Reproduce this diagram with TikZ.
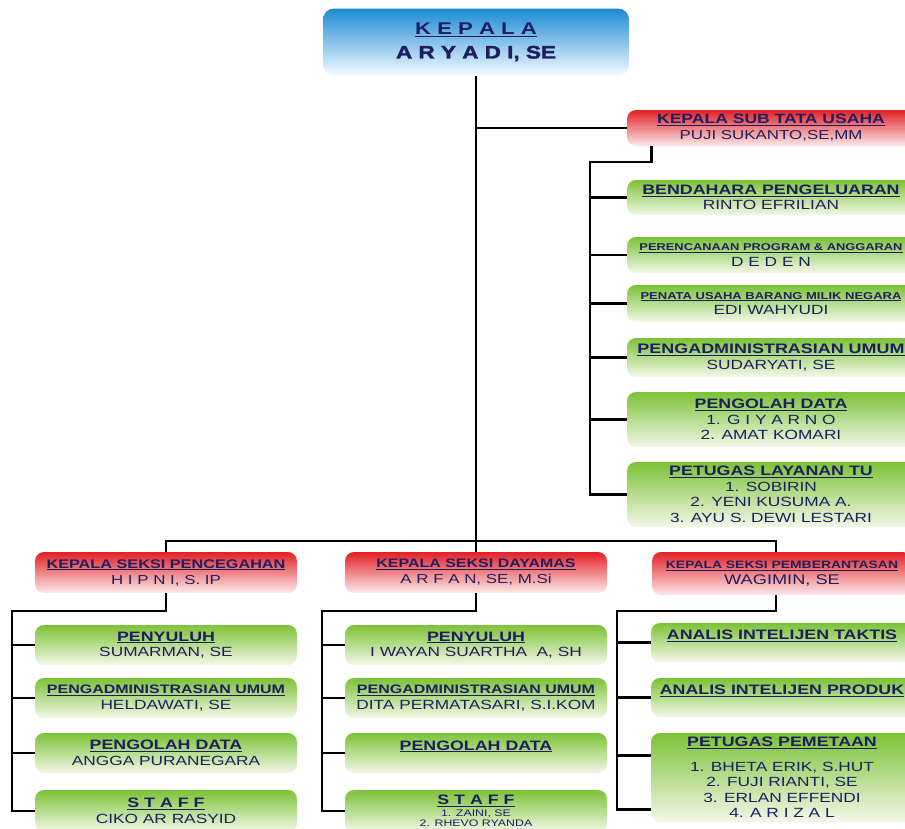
\documentclass[tikz,border=0pt]{standalone}
\usepackage{fontspec}
\setmainfont{Liberation Sans}[FakeStretch=1.3]
\newfontfamily\heavyfont{Liberation Sans Bold}[FakeStretch=1.25, FakeBold=2.2]
\definecolor{inknavy}{RGB}{30,30,95}
\definecolor{blutop}{RGB}{28,138,214}
\definecolor{blubot}{RGB}{244,250,255}
\definecolor{redtop}{RGB}{226,32,38}
\definecolor{redbot}{RGB}{253,234,234}
\definecolor{grntop}{RGB}{124,194,54}
\definecolor{grnbot}{RGB}{242,248,232}
\newcommand{\jab}[2][13.7]{{\fontsize{#1}{15.5}\selectfont\bfseries\underline{#2}}}
\tikzstyle{chief} = [
    rectangle,
    rounded corners=11pt,
    top color=blutop,
    bottom color=blubot,
    minimum width=306pt,
    minimum height=67pt,
    inner sep=0pt,
    text=inknavy,
    align=center,
    font=\fontsize{18}{24}\selectfont\bfseries
]
\tikzstyle{head} = [
    rectangle,
    rounded corners=9pt,
    top color=redtop,
    bottom color=redbot,
    inner sep=0pt,
    text=inknavy,
    align=center,
    font=\fontsize{13}{16}\selectfont
]
\tikzstyle{tuunit} = [
    rectangle,
    rounded corners=9pt,
    top color=grntop,
    bottom color=grnbot,
    minimum width=288pt,
    inner sep=0pt,
    text=inknavy,
    align=center,
    font=\fontsize{13.3}{15.5}\selectfont
]
\tikzstyle{unit} = [tuunit, minimum width=262pt]
\tikzstyle{link} = [line width=2.9pt, black]

\begin{document}
\begin{tikzpicture}[x=1pt, y=-1pt]
\useasboundingbox (0,0) rectangle (905,828);
\begin{scope}
\clip (0,0) rectangle (905,828);

% kepala dan sub tata usaha
\node (kepala) [chief] at (476,42)
{{\fontsize{17}{20}\selectfont\underline{K E P A L A}}\\{\heavyfont A R Y A D I, SE}};

\node (subtu) [head, minimum width=288pt, minimum height=36pt] at (771,128)
{\jab[13.5]{KEPALA SUB TATA USAHA}\\PUJI SUKANTO,SE,MM};

\node (tu1) [tuunit, minimum height=35pt] at (771,197.5)
{\jab{BENDAHARA PENGELUARAN}\\RINTO EFRILIAN};
\node (tu2) [tuunit, minimum height=36pt] at (771,255)
{\jab[9.9]{PERENCANAAN PROGRAM \& ANGGARAN}\\D E D E N};
\node (tu3) [tuunit, minimum height=37pt] at (771,303.5)
{\jab[10]{PENATA USAHA BARANG MILIK NEGARA}\\EDI WAHYUDI};
\node (tu4) [tuunit, minimum height=39pt] at (771,357.5)
{\jab[13.8]{PENGADMINISTRASIAN UMUM}\\SUDARYATI, SE};
\node (tu5) [tuunit, minimum height=55pt] at (771,419.5)
{\jab{PENGOLAH DATA}\\1. G I Y A R N O\\2. AMAT KOMARI};
\node (tu6) [tuunit, minimum height=65pt] at (771,494.5)
{\jab{PETUGAS LAYANAN TU}\\1. SOBIRIN\\2. YENI KUSUMA A.\\3. AYU S. DEWI LESTARI};

% kepala seksi
\node (cegah) [head, minimum width=262pt, minimum height=41pt] at (166,572.5)
{\jab[12.5]{KEPALA SEKSI PENCEGAHAN}\\H I P N I, S. IP};
\node (dayamas) [head, minimum width=262pt, minimum height=41pt] at (476,572.5)
{\jab[12.3]{KEPALA SEKSI DAYAMAS}\\A R F A N, SE, M.Si};
\node (berantas) [head, minimum width=260pt, minimum height=43pt] at (782,573.5)
{\jab[10.7]{KEPALA SEKSI PEMBERANTASAN}\\{\fontsize{14}{16}\selectfont WAGIMIN, SE}};

% seksi pencegahan
\node (c1) [unit, minimum height=40pt] at (166,645)
{\jab{PENYULUH}\\SUMARMAN, SE};
\node (c2) [unit, minimum height=40pt] at (166,698)
{\jab[12.3]{PENGADMINISTRASIAN UMUM}\\HELDAWATI, SE};
\node (c3) [unit, minimum height=40pt] at (166,753)
{\jab{PENGOLAH DATA}\\ANGGA PURANEGARA};
\node (c4) [unit, minimum height=42pt] at (166,811)
{\jab{S T A F F}\\CIKO AR RASYID};

% seksi dayamas
\node (d1) [unit, minimum height=40pt] at (476,645)
{\jab{PENYULUH}\\I WAYAN SUARTHA\ \ A, SH};
\node (d2) [unit, minimum height=40pt] at (476,698)
{\jab[12.3]{PENGADMINISTRASIAN UMUM}\\DITA PERMATASARI, S.I.KOM};
\node (d3) [unit, minimum height=40pt] at (476,753)
{\jab{PENGOLAH DATA}\\ \mbox{}};
\node (d4) [unit, minimum height=42pt] at (476,811)
{\jab{S T A F F}\\[-4pt]{\fontsize{9.5}{11}\selectfont 1. ZAINI, SE}\\[-5pt]{\fontsize{9.5}{11}\selectfont 2. RHEVO RYANDA}};

% seksi pemberantasan
\node (b1) [unit, minimum height=39pt] at (782,642.5)
{\jab{ANALIS INTELIJEN TAKTIS}\\ \mbox{}};
\node (b2) [unit, minimum height=39pt] at (782,697.5)
{\jab{ANALIS INTELIJEN PRODUK}\\ \mbox{}};
\node (b3) [unit, minimum height=89pt] at (782,777.5)
{\jab{PETUGAS PEMETAAN}\\[9pt]1. BHETA ERIK, S.HUT\\2. FUJI RIANTI, SE\\3. ERLAN EFFENDI\\4. A R I Z A L};

% garis
\coordinate (barR) at (776,541);
\coordinate (tuTop) at (590,162);
\coordinate (cTop) at (12,611);
\coordinate (dTop) at (322,611);
\coordinate (bTop) at (617,611);
\coordinate (b3hi) at ([yshift=22pt]b3.west);
\coordinate (b3lo) at ([yshift=-32pt]b3.west);

\draw [link] (kepala.south) -- (dayamas.north);
\draw [link] (kepala.south |- subtu.west) -- (subtu.west);
\draw [link] (cegah.north) |- (barR) -- (barR |- berantas.north);

\draw [link] ([xshift=25pt]subtu.south west) |- (tuTop) |- (tu6.west);
\foreach \n in {tu1,tu2,tu3,tu4,tu5}
    \draw [link] (tuTop |- \n.west) -- (\n.west);

\draw [link] (cegah.south) |- (cTop) |- (c4.west);
\foreach \n in {c1,c2,c3}
    \draw [link] (cTop |- \n.west) -- (\n.west);

\draw [link] (dayamas.south) |- (dTop) |- (d4.west);
\foreach \n in {d1,d2,d3}
    \draw [link] (dTop |- \n.west) -- (\n.west);

\draw [link] (barR |- berantas.south) |- (bTop) |- (b3lo);
\foreach \n in {b1.west,b2.west,b3hi}
    \draw [link] (bTop |- \n) -- (\n);

\end{scope}
\end{tikzpicture}
\end{document}
